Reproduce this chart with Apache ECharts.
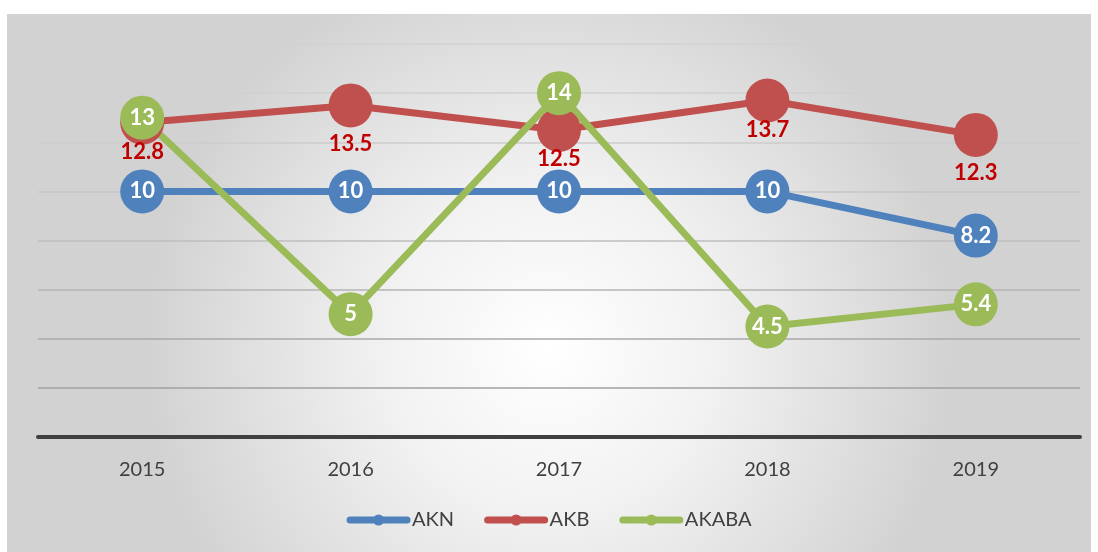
<!DOCTYPE html>
<html>
<head>
<meta charset="utf-8">
<script src="https://cdn.jsdelivr.net/npm/echarts@6/dist/echarts.min.js"></script>
<style>
  html, body { margin: 0; padding: 0; background: #fff; }
  #chart { width: 1098px; height: 552px; }
</style>
</head>
<body>
<div id="chart"></div>
<script>
  const years = ['2015', '2016', '2017', '2018', '2019']
  const akn = [10, 10, 10, 10, 8.2]
  const akb = [12.8, 13.5, 12.5, 13.7, 12.3]
  const akaba = [13, 5, 14, 4.5, 5.4]

  const font = 'Lato, "Open Sans", sans-serif'

  // red labels sit below the circle; two of them are pushed a bit further down
  const akbData = akb.map(function (v, i) {
    let extra = (i === 1 || i === 4) ? 9 : 0
    return { value: v, label: { offset: [0, extra] } }
  })

  const chart = echarts.init(document.getElementById('chart'))
  chart.setOption({
    animation: false,
    backgroundColor: '#fff',
    textStyle: { fontFamily: font },
    graphic: [{
      type: 'rect',
      z: -10,
      silent: true,
      shape: { x: 7, y: 14, width: 1084, height: 540 },
      style: {
        fill: {
          type: 'radial', x: 0.5, y: 0.62, r: 0.75,
          colorStops: [
            { offset: 0, color: '#ffffff' },
            { offset: 0.4, color: '#f2f2f2' },
            { offset: 1, color: '#d2d2d2' }
          ]
        }
      }
    }],
    grid: { left: 38, right: 18, top: 44, bottom: 115 },
    legend: {
      bottom: 17,
      itemWidth: 57,
      itemHeight: 14,
      itemGap: 30,
      lineStyle: { width: 7, cap: 'round' },
      textStyle: { fontSize: 20, color: '#404040', fontFamily: font },
      data: ['AKN', 'AKB', 'AKABA']
    },
    xAxis: {
      type: 'category',
      data: years,
      axisTick: { show: false },
      axisLine: { lineStyle: { color: '#404040', width: 4 } },
      axisLabel: { fontSize: 20, color: '#404040', margin: 23, fontFamily: font }
    },
    yAxis: {
      type: 'value',
      min: 0, max: 16, interval: 2,
      axisLabel: { show: false },
      axisLine: { show: false },
      axisTick: { show: false },
      splitLine: {
        lineStyle: {
          width: 1.5,
          color: ['#404040', '#a0a0a0', '#a8a8a8', '#b4b4b4', '#bebebe', '#c6c6c6', '#cccccc', '#d0d0d0', '#d2d2d2']
        }
      }
    },
    series: [
      {
        name: 'AKN',
        type: 'line',
        data: akn,
        color: '#4f81bd',
        symbol: 'circle',
        symbolSize: 44,
        lineStyle: { width: 7 },
        itemStyle: { color: '#4f81bd' },
        label: { show: true, position: 'inside', color: '#fff', fontSize: 22, fontWeight: 'bold', fontFamily: font }
      },
      {
        name: 'AKB',
        type: 'line',
        data: akbData,
        color: '#c0504d',
        symbol: 'circle',
        symbolSize: 44,
        lineStyle: { width: 7 },
        itemStyle: { color: '#c0504d' },
        label: { show: true, position: 'bottom', distance: -4, color: '#c00000', fontSize: 22, fontWeight: 'bold', fontFamily: font }
      },
      {
        name: 'AKABA',
        type: 'line',
        data: akaba,
        color: '#9bbb59',
        symbol: 'circle',
        symbolSize: 44,
        lineStyle: { width: 7 },
        itemStyle: { color: '#9bbb59' },
        label: { show: true, position: 'inside', color: '#fff', fontSize: 22, fontWeight: 'bold', fontFamily: font }
      }
    ]
  })
</script>
</body>
</html>
